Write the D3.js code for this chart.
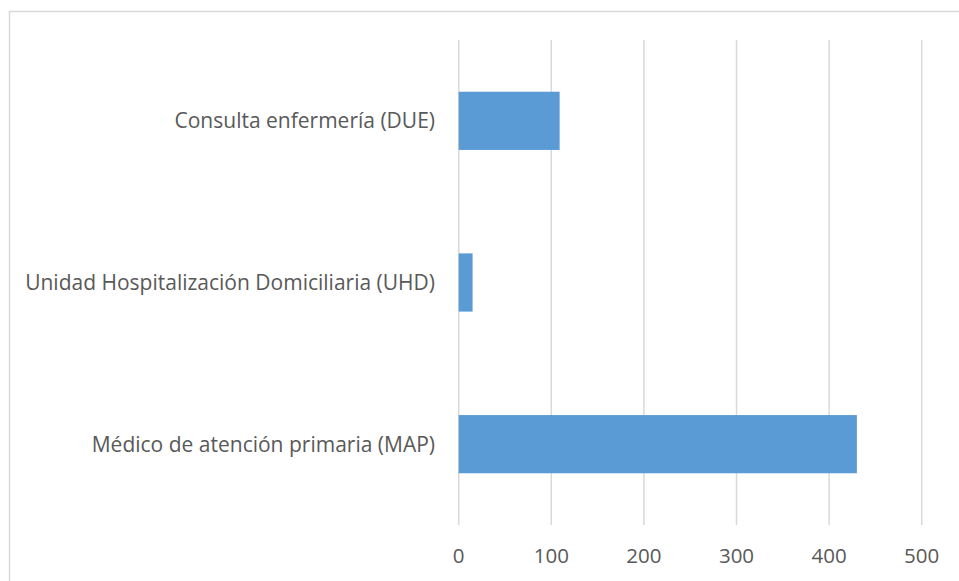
<html>
<head>
<meta charset="utf-8">
<script src="https://d3js.org/d3.v7.min.js"></script>
<style>
  body { margin: 0; background: #fff; }
  text { font-family: "Open Sans", "Noto Sans", sans-serif; fill: #595959; }
</style>
</head>
<body>
<svg id="chart" width="959" height="581"></svg>
<script>
var categories = ["Consulta enfermería (DUE)", "Unidad Hospitalización Domiciliaria (UHD)", "Médico de atención primaria (MAP)"];
var values = [109, 15, 430];
var xTicks = [0, 100, 200, 300, 400, 500];

var svg = d3.select("#chart");

// chart frame (runs off the right and bottom edge)
svg.append("rect")
  .attr("x", 9.5).attr("y", 11.5)
  .attr("width", 960).attr("height", 580)
  .attr("fill", "none").attr("stroke", "#d9d9d9").attr("stroke-width", 1.5);

var x = d3.scaleLinear().domain([0, 500]).range([458.7, 921.7]);
var y = d3.scaleBand().domain(categories).range([40, 525]).paddingInner(0.64).paddingOuter(0.32);

// gridlines
svg.append("g").selectAll("line").data(xTicks).enter().append("line")
  .attr("x1", function(d){ return x(d) }).attr("x2", function(d){ return x(d) })
  .attr("y1", 40).attr("y2", 525)
  .attr("stroke", "#d9d9d9").attr("stroke-width", 1.5);

// bars
svg.append("g").selectAll("rect").data(values).enter().append("rect")
  .attr("x", x(0))
  .attr("y", function(d, i){ return y(categories[i]) })
  .attr("width", function(d){ return x(d) - x(0) })
  .attr("height", y.bandwidth())
  .attr("fill", "#5b9bd5");

// x tick labels
svg.append("g").selectAll("text").data(xTicks).enter().append("text")
  .attr("x", function(d){ return x(d) })
  .attr("y", 563)
  .attr("text-anchor", "middle")
  .style("font-size", "20.5px")
  .text(function(d){ return d });

// category labels
svg.append("g").selectAll("text").data(categories).enter().append("text")
  .attr("x", 435)
  .attr("y", function(d){ return y(d) + y.bandwidth() / 2 })
  .attr("dy", "0.35em")
  .attr("text-anchor", "end")
  .style("font-size", "21px")
  .text(function(d){ return d });
</script>
</body>
</html>
